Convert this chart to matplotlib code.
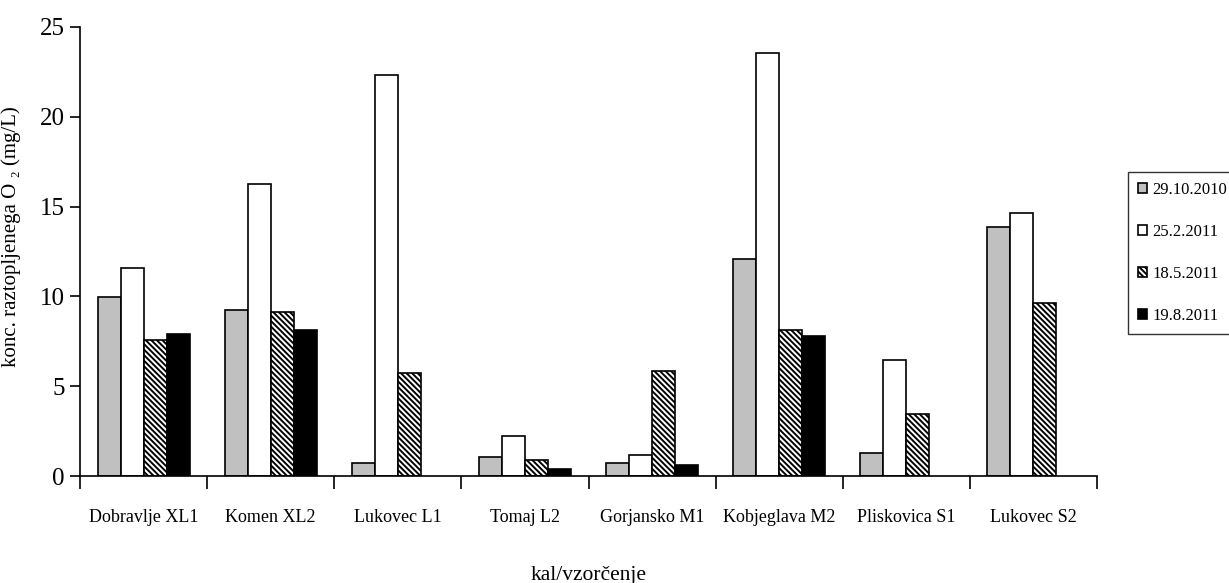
import numpy as np
import matplotlib
matplotlib.use("Agg")
import matplotlib.pyplot as plt

# dissolved O2 per site and sampling date (NaN = not sampled)
sites = ["Dobravlje XL1", "Komen XL2", "Lukovec L1", "Tomaj L2",
         "Gorjansko M1", "Kobjeglava M2", "Pliskovica S1", "Lukovec S2"]
dates = ["29.10.2010", "25.2.2011", "18.5.2011", "19.8.2011"]
o2_oct2010 = [9.95, 9.24, 0.72, 1.07, 0.72, 12.06, 1.28, 13.87]
o2_feb2011 = [11.56, 16.28, 22.3, 2.22, 1.18, 23.56, 6.48, 14.67]
o2_may2011 = [7.55, 9.15, 5.72, 0.91, 5.83, 8.13, 3.48, 9.61]
o2_aug2011 = [7.89, 8.11, np.nan, 0.41, 0.63, 7.78, np.nan, np.nan]

series = [o2_oct2010, o2_feb2011, o2_may2011, o2_aug2011]
fills = ["#c0c0c0", "white", "white", "black"]
hatches = [None, None, "\\" * 6, None]

SERIF = ["Liberation Serif", "DejaVu Serif"]
plt.rcParams["font.family"] = SERIF
plt.rcParams["hatch.linewidth"] = 1.4

fig = plt.figure(figsize=(12.29, 5.83), dpi=100)
ax = fig.add_axes([0.0651, 0.1835, 0.8275, 0.7702])

x = np.arange(len(sites))
w = 0.181
for i, (vals, fc, h) in enumerate(zip(series, fills, hatches)):
    ax.bar(x + (i - 1.5) * w, vals, w, color=fc, edgecolor="black",
           linewidth=1.2, hatch=h, label=dates[i])

ax.set_xlim(-0.5, len(sites) - 0.5)
ax.set_ylim(0, 25)
ax.set_yticks([0, 5, 10, 15, 20, 25])
ax.set_xticks(x)
ax.set_xticklabels(sites)
ax.set_xticks(np.arange(len(sites) + 1) - 0.5, minor=True)
ax.tick_params(axis="x", which="major", length=0, pad=24, labelsize=13)
ax.tick_params(axis="x", which="minor", length=9, width=1.2, direction="out")
ax.tick_params(axis="y", length=7, width=1.2, labelsize=18, pad=4)

for s in ("top", "right"):
    ax.spines[s].set_visible(False)
ax.spines["left"].set_linewidth(1.2)
ax.spines["bottom"].set_linewidth(1.2)

ax.set_ylabel("konc. raztopljenega O \u2082 (mg/L)", fontsize=15, family=SERIF)
ax.yaxis.set_label_coords(-0.058, 0.534)
ax.set_xlabel("kal/vzor\u010denje", fontsize=15.5)
ax.xaxis.set_label_coords(0.5, -0.2)

leg = fig.legend(loc="center left", bbox_to_anchor=(0.918, 0.566),
                 fontsize=12, frameon=True, fancybox=False,
                 edgecolor="black", handlelength=0.55, handleheight=0.55,
                 handletextpad=0.3, labelspacing=1.55, borderpad=0.6,
                 borderaxespad=0)
leg.get_frame().set_linewidth(1.0)

fig.savefig("out.png", dpi=100)
